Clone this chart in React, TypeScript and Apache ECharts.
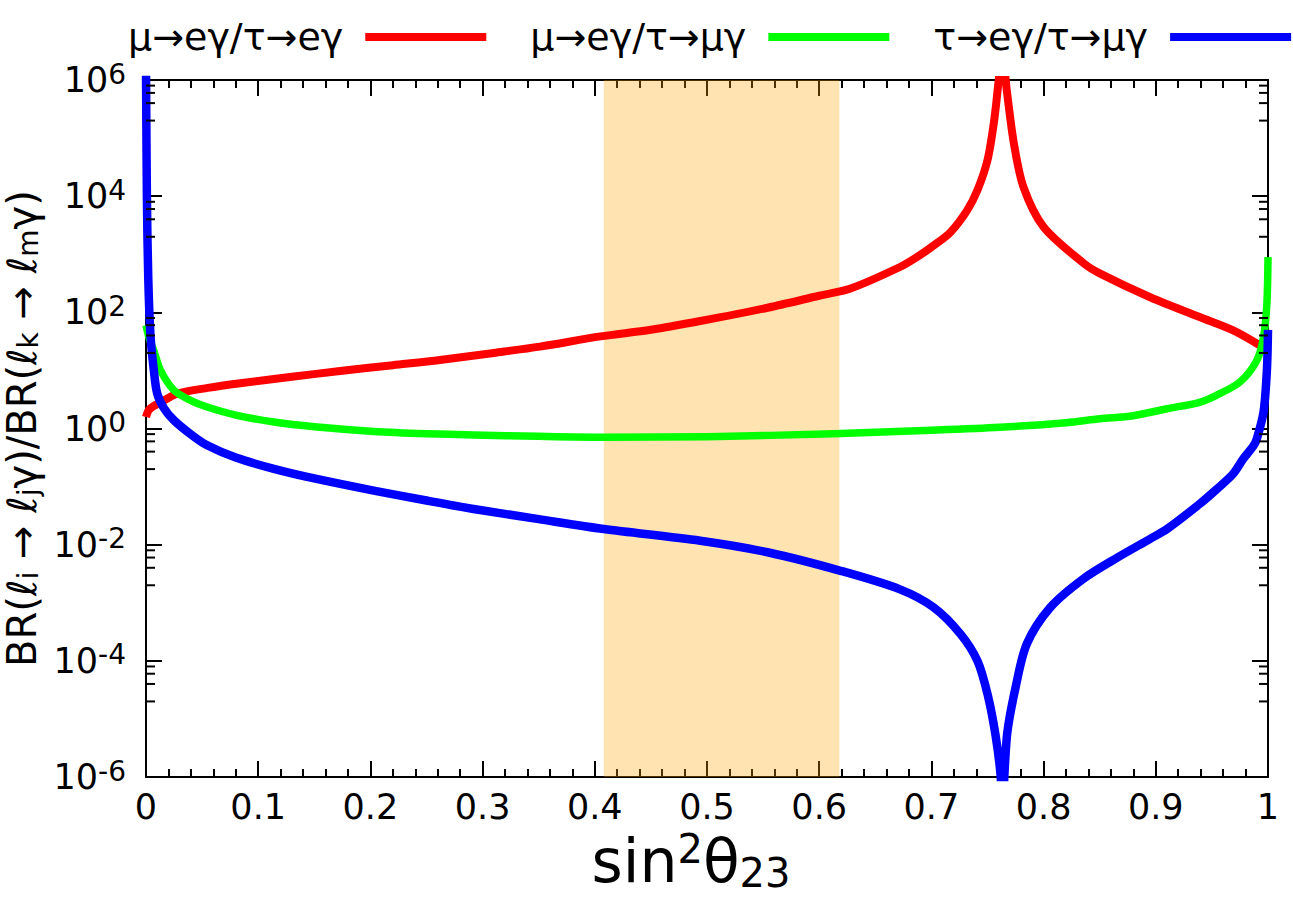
import React, { useEffect, useRef } from "react";
import * as echarts from "echarts";

// sin^2(theta23) samples and ratios
const RED_X = [0, 0.003, 0.013, 0.028, 0.055, 0.084, 0.13, 0.173, 0.22, 0.262, 0.31, 0.351, 0.405, 0.45, 0.494, 0.554, 0.6, 0.628, 0.672, 0.687, 0.702, 0.717, 0.732, 0.741, 0.75, 0.756, 0.76, 0.763, 0.7675, 0.7735, 0.782, 0.8, 0.836, 0.85, 0.895, 0.939, 0.969, 0.993];
const RED_Y = [1.58, 2.14, 2.82, 3.98, 5.01, 6.03, 7.76, 9.77, 12.3, 15.1, 20.0, 25.7, 38.5, 50.1, 70.8, 120, 193, 257, 603, 891, 1413, 2399, 5754, 12589, 41687, 204174, 1000000, 3000000, 588844, 81283, 14454, 2951, 692, 468, 182, 83.2, 49.0, 26.9];

const GREEN_X = [0, 0.003, 0.007, 0.013, 0.025, 0.04, 0.0545, 0.08, 0.114, 0.15, 0.203, 0.25, 0.292, 0.35, 0.408, 0.5, 0.613, 0.7, 0.761, 0.82, 0.85, 0.88, 0.91, 0.939, 0.954, 0.975, 0.99, 0.996, 0.999, 1.0];
const GREEN_Y = [60, 35, 21.9, 10, 4.52, 3.02, 2.34, 1.7, 1.29, 1.07, 0.891, 0.813, 0.776, 0.733, 0.708, 0.724, 0.813, 0.933, 1.05, 1.26, 1.47, 1.66, 2.19, 2.82, 3.72, 6.31, 14.8, 37.2, 141, 891];

const BLUE_X = [0, 0.0008, 0.002, 0.004, 0.007, 0.01, 0.016, 0.025, 0.04, 0.0545, 0.08, 0.114, 0.15, 0.203, 0.25, 0.292, 0.35, 0.408, 0.494, 0.554, 0.619, 0.672, 0.702, 0.726, 0.741, 0.75, 0.757, 0.7616, 0.763, 0.7675, 0.775, 0.785, 0.806, 0.836, 0.866, 0.895, 0.91, 0.939, 0.954, 0.969, 0.978, 0.987, 0.99, 0.996, 0.999, 1.0];
const BLUE_Y = [1600000, 10000, 398, 39.8, 10, 3.98, 2.24, 1.38, 0.794, 0.513, 0.316, 0.202, 0.138, 0.0851, 0.0575, 0.0412, 0.0275, 0.0186, 0.0117, 0.00741, 0.00355, 0.0017, 0.000832, 0.000288, 0.0001, 0.0000269, 0.0000055, 0.00000112, 0.0000003, 0.0000055, 0.0000347, 0.000195, 0.000832, 0.00263, 0.00603, 0.0126, 0.0186, 0.0501, 0.0891, 0.166, 0.302, 0.501, 0.661, 1.91, 10, 50];

const SERIES_NAMES = ["μ→eγ/τ→eγ", "μ→eγ/τ→μγ", "τ→eγ/τ→μγ"];
const SERIES_COLORS = ["#ff0000", "#00ff00", "#0000ff"];
const SERIES_WIDTHS = [8, 7.5, 8.5];

const BAND = [0.408, 0.618];
// y axis in decades: exponents of 10
const Y_MIN_EXP = -6;
const Y_MAX_EXP = 6;
const Y_STEP_EXP = 2;
const Y_MINOR = [2e5, 4e5, 6e5, 8e5, 2e3, 4e3, 6e3, 8e3, 20, 40, 60, 80, 0.2, 0.4, 0.6, 0.8, 2e-3, 4e-3, 6e-3, 8e-3, 2e-5, 4e-5, 6e-5, 8e-5];

const FONT = "DejaVu Sans";

function pairs(xs: number[], ys: number[]) {
  return xs.map((x, i) => [x, Math.log10(ys[i])]);
}

export default function App() {
  const ref = useRef<HTMLDivElement>(null);
  useEffect(() => {
    document.body.style.margin = "0";
    const chart = echarts.init(ref.current!, null, { renderer: "svg" });
    const tickStyle = { color: "#000", width: 2 };
    const supLabel = (v: number) => "{a|10}{s|" + Math.round(v) + "}";
    const labelRich = {
      a: { fontSize: 35, lineHeight: 40, fontFamily: FONT, color: "#000" },
      s: { fontSize: 28, lineHeight: 22, verticalAlign: "top", fontFamily: FONT, color: "#000" },
    };
    const data = [pairs(RED_X, RED_Y), pairs(GREEN_X, GREEN_Y), pairs(BLUE_X, BLUE_Y)];
    const yAxisBase = {
      type: "value",
      min: Y_MIN_EXP,
      max: Y_MAX_EXP,
      interval: Y_STEP_EXP,
      axisLine: { show: true, onZero: false, lineStyle: tickStyle },
      axisTick: { show: true, inside: true, length: 16, lineStyle: tickStyle },
      splitLine: { show: false },
    };
    const xAxisBase = {
      type: "value",
      min: 0,
      max: 1,
      interval: 0.1,
      axisLine: { show: true, onZero: false, lineStyle: tickStyle },
      axisTick: { show: true, inside: true, length: 16, lineStyle: tickStyle },
      minorTick: { show: true, splitNumber: 5, length: 8, lineStyle: tickStyle },
      splitLine: { show: false },
    };
    const option: any = {
      animation: false,
      backgroundColor: "#fff",
      textStyle: { fontFamily: FONT },
      grid: { left: 146, right: 25, top: 80, bottom: 135, containLabel: false, outerBoundsMode: "none" },
      legend: {
        data: SERIES_NAMES,
        left: 128,
        top: 17,
        padding: 0,
        align: "right",
        icon: "rect",
        itemWidth: 121,
        itemHeight: 8,
        itemGap: 44,
        selectedMode: false,
        textStyle: { fontSize: 38, lineHeight: 40, color: "#000", fontFamily: FONT, padding: [0, 17, 0, 0] },
      },
      xAxis: [
        {
          ...xAxisBase,
          position: "bottom",
          name: "{a|sin}{p|2}{a|θ}{b|23}",
          nameLocation: "middle",
          nameGap: 46,
          nameTextStyle: {
            padding: [0, 32, 0, 0],
            rich: {
              a: { fontSize: 60, lineHeight: 64, fontFamily: FONT, color: "#000" },
              p: { fontSize: 40, lineHeight: 34, verticalAlign: "top", fontFamily: FONT, color: "#000" },
              b: { fontSize: 40, lineHeight: 30, verticalAlign: "bottom", fontFamily: FONT, color: "#000" },
            },
          },
          axisLabel: {
            margin: 12,
            fontSize: 35,
            fontFamily: FONT,
            color: "#000",
            formatter: (v: number) => String(Math.round(v * 10) / 10),
          },
        },
        { ...xAxisBase, position: "top", axisLabel: { show: false } },
      ],
      yAxis: [
        {
          ...yAxisBase,
          position: "left",
          name: "{a|BR(ℓ}{b|i}{a| → ℓ}{b|j}{a|γ)/BR(ℓ}{b|k}{a| → ℓ}{b|m}{a|γ)}",
          nameLocation: "middle",
          nameRotate: 90,
          nameGap: 100,
          nameTextStyle: {
            rich: {
              a: { fontSize: 40, lineHeight: 42, fontFamily: FONT, color: "#000" },
              b: { fontSize: 28, lineHeight: 22, verticalAlign: "bottom", fontFamily: FONT, color: "#000" },
            },
          },
          axisLabel: { margin: 20, formatter: supLabel, rich: labelRich },
        },
        { ...yAxisBase, position: "right", axisLabel: { show: false } },
      ],
      series: [
        ...SERIES_NAMES.map((name, i) => ({
          name,
          type: "line",
          data: data[i],
          xAxisIndex: 0,
          yAxisIndex: 0,
          showSymbol: false,
          symbol: "none",
          smooth: 0.3,
          clip: true,
          z: 2,
          color: SERIES_COLORS[i],
          lineStyle: { color: SERIES_COLORS[i], width: SERIES_WIDTHS[i], join: "round" },
        })),
        {
          name: "band",
          type: "line",
          data: [],
          xAxisIndex: 0,
          yAxisIndex: 0,
          z: 5,
          silent: true,
          markArea: {
            silent: true,
            itemStyle: { color: "rgba(255,165,0,0.3)" },
            data: [[{ xAxis: BAND[0], yAxis: Y_MIN_EXP }, { xAxis: BAND[1], yAxis: Y_MAX_EXP }]],
          },
        },
        {
          name: "minor",
          type: "custom",
          xAxisIndex: 0,
          yAxisIndex: 0,
          silent: true,
          z: 6,
          data: Y_MINOR.map((v) => [0, Math.log10(v)]),
          encode: { x: 0, y: 1 },
          renderItem: (params: any, api: any) => {
            const cs = params.coordSys;
            const y = api.coord([0, api.value(1)])[1];
            const st = { stroke: "#000", lineWidth: 2 };
            return {
              type: "group",
              children: [
                { type: "line", shape: { x1: cs.x, y1: y, x2: cs.x + 9, y2: y }, style: st },
                { type: "line", shape: { x1: cs.x + cs.width - 9, y1: y, x2: cs.x + cs.width, y2: y }, style: st },
              ],
            };
          },
        },
      ],
    };
    chart.setOption(option);
    return () => chart.dispose();
  }, []);
  return <div ref={ref} style={{ width: 1293, height: 912 }} />;
}
